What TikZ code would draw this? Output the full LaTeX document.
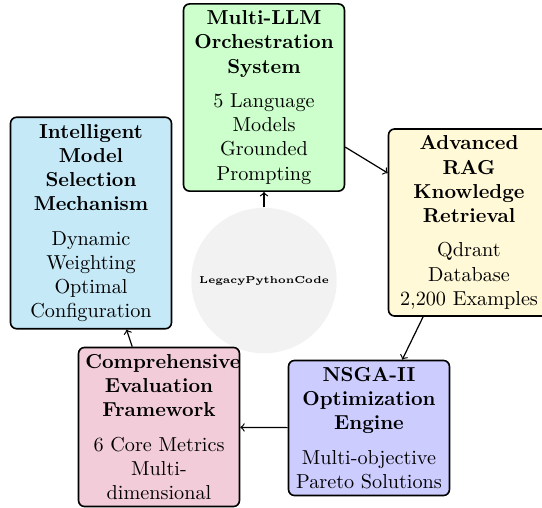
\documentclass[tikz,border=0pt]{standalone}
\definecolor{cgreen}{RGB}{204,255,204}
\definecolor{cblue}{RGB}{198,233,248}
\definecolor{cyellow}{RGB}{255,249,215}
\definecolor{cpink}{RGB}{242,204,217}
\definecolor{cpurple}{RGB}{204,204,255}
\begin{document}
\begin{tikzpicture}[x=0.495pt,y=-0.495pt,
  box/.style={draw=black, thick, rounded corners=3pt, text width=73pt, align=center, inner sep=3.33pt,
    execute at begin node={\hyphenpenalty=10000\relax}},
  arr/.style={->, semithick}]
\useasboundingbox (0,0) rectangle (542,508);
\node[circle, fill=gray!10, minimum size=72pt, inner sep=0pt, font=\tiny\bfseries] (core) at (264,280.5) {LegacyPythonCode};
\node[box, fill=cgreen] (llm) at (264,97.5) {{\bfseries Multi-LLM Orchestration System}\\[5pt]5 Language Models\\Grounded Prompting};
\node[box, fill=cyellow] (rag) at (469,222.5) {{\bfseries Advanced RAG Knowledge Retrieval}\\[5pt]Qdrant Database\\2,200 Examples};
\node[box, fill=cpurple] (nsga) at (369,428) {{\bfseries NSGA-II Optimization Engine}\\[5pt]Multi-objective\\Pareto Solutions};
\node[box, fill=cpink] (eval) at (159,427) {{\bfseries Comprehensive Evaluation Framework}\\[5pt]6 Core Metrics\\Multi-dimensional};
\node[box, fill=cblue] (sel) at (91,223) {{\bfseries Intelligent Model Selection Mechanism}\\[5pt]Dynamic Weighting\\Optimal Configuration};
\draw[arr] (core) -- (llm);
\draw[arr] (llm) -- (rag);
\draw[arr] (rag) -- (nsga);
\draw[arr] (nsga) -- (eval);
\draw[arr] (eval) -- (sel);
\end{tikzpicture}
\end{document}
